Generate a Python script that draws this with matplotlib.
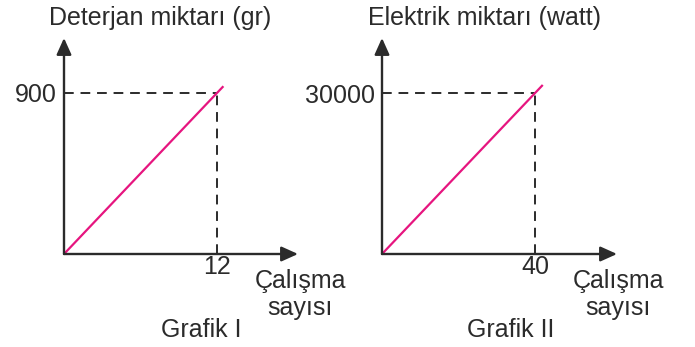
import matplotlib.pyplot as plt

# values
panel_titles = ['Deterjan miktarı (gr)', 'Elektrik miktarı (watt)']
panel_names = ['Grafik I', 'Grafik II']
x_label = 'Çalışma\nsayısı'
x_marks = [12, 40]
y_marks = [900, 30000]
# the pink line runs a little past the marked point
x_end = [12.5, 42]
y_end = [937.5, 31500]
x_max = [18.35, 61.4]
y_max = [1207, 40250]

W, H = 695, 347
ink = '#2b2b2b'
pink = '#e6157f'
plt.rcParams['font.family'] = ['Liberation Sans', 'DejaVu Sans']

fig = plt.figure(figsize=(W / 100, H / 100), dpi=100)

# pixel boxes: left, right, bottom(origin), top(arrow tip)
boxes = [(64, 298, 254, 38), (382, 617, 254, 38)]
title_cx = [160.5, 485]
label_cx = [300, 618]
name_cx = [201, 511]


def fx(px):
    return px / W


def fy(py):
    return 1 - py / H


for i in range(2):
    l, r, b, t = boxes[i]
    ax = fig.add_axes([fx(l), fy(b), fx(r) - fx(l), fy(t) - fy(b)])
    ax.set_xlim(0, x_max[i])
    ax.set_ylim(0, y_max[i])
    for s in ax.spines.values():
        s.set_visible(False)
    ax.patch.set_alpha(0)

    # axes with arrow heads
    arrow = dict(arrowstyle='-|>,head_length=1.0,head_width=0.45', color=ink,
                 lw=1.7, shrinkA=0, shrinkB=0)
    ax.annotate('', xy=(1, 0), xytext=(0, 0), xycoords='axes fraction',
                arrowprops=arrow)
    ax.annotate('', xy=(0, 1), xytext=(0, 0), xycoords='axes fraction',
                arrowprops=arrow)

    # dashed guide lines
    ax.plot([0, x_marks[i]], [y_marks[i], y_marks[i]], ls=(0, (5, 3.5)),
            color=ink, lw=1.4)
    ax.plot([x_marks[i], x_marks[i]], [0, y_marks[i]], ls=(0, (5, 3.5)),
            color=ink, lw=1.4)

    ax.plot([0, x_end[i]], [0, y_end[i]], color=pink, lw=1.6,
            solid_capstyle='butt')

    ax.set_xticks([x_marks[i]])
    ax.set_yticks([y_marks[i]])
    ax.set_xticklabels([str(x_marks[i])])
    ax.set_yticklabels([str(y_marks[i])])
    ax.tick_params(length=0, labelsize=18, colors=ink, pad=5)
    ax.tick_params(axis='x', pad=1)

    fig.text(fx(title_cx[i]), fy(25), panel_titles[i], ha='center',
             va='baseline', fontsize=18, color=ink)
    fig.text(fx(label_cx[i]), fy(315), x_label, ha='center', va='baseline',
             fontsize=18, color=ink, linespacing=1.15, multialignment='center')
    fig.text(fx(name_cx[i]), fy(337), panel_names[i], ha='center',
             va='baseline', fontsize=18, color=ink)

fig.savefig('out.png', dpi=100)
